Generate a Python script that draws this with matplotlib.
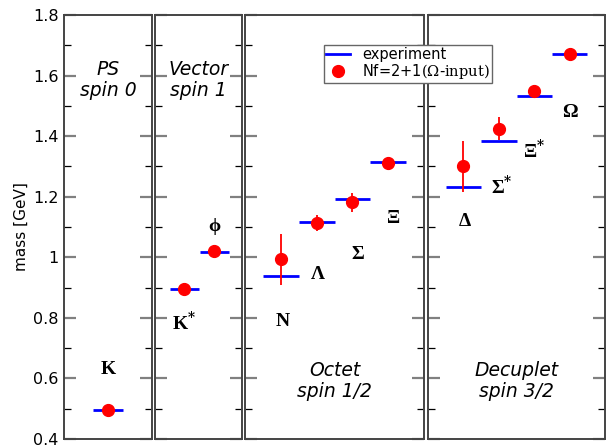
import matplotlib
matplotlib.use('Agg')
import matplotlib.pyplot as plt
from matplotlib.lines import Line2D
from matplotlib.ticker import MultipleLocator, FuncFormatter

# data (GeV)
ps_names = ['K']
ps_exp = [0.497]
ps_lat = [0.497]
ps_err = [0.0]

vec_names = [r'K$^{\mathbf{*}}$', 'ϕ']
vec_exp = [0.894, 1.019]
vec_lat = [0.896, 1.021]
vec_err = [0.0, 0.0]

oct_names = ['N', 'Λ', 'Σ', 'Ξ']
oct_exp = [0.939, 1.116, 1.192, 1.316]
oct_lat = [0.994, 1.114, 1.181, 1.310]
oct_err = [0.084, 0.026, 0.031, 0.006]

dec_names = ['Δ', r'Σ$^{\mathbf{*}}$', r'Ξ$^{\mathbf{*}}$', 'Ω']
dec_exp = [1.232, 1.384, 1.532, 1.672]
dec_lat = [1.300, 1.425, 1.548, 1.672]
dec_err = [0.085, 0.037, 0.012, 0.0]

# where the particle names sit
ps_label_y = [0.628]
vec_label_y = [0.787, 1.100]
oct_label_y = [0.788, 0.942, 1.008, 1.129]
dec_label_y = [1.118, 1.236, 1.354, 1.477]

panel_titles = ['PS\nspin 0', 'Vector\nspin 1', 'Octet\nspin 1/2', 'Decuplet\nspin 3/2']

plt.rcParams['font.family'] = ['DejaVu Sans']
plt.rcParams['mathtext.fontset'] = 'custom'
plt.rcParams['mathtext.rm'] = 'DejaVu Serif'
plt.rcParams['mathtext.bf'] = 'DejaVu Serif:bold'

W, H = 606, 446
fig = plt.figure(figsize=(W / 100, H / 100), dpi=100)

# panel pixel edges (left, right)
edges = [(64, 152), (155, 242), (245, 424), (428, 605)]
top, bottom = 15, 439

panels = [
    (ps_names, ps_exp, ps_lat, ps_err, ps_label_y, [1.5], (0, 3), (1.5, 1.585)),
    (vec_names, vec_exp, vec_lat, vec_err, vec_label_y, [1, 2.05], (0, 3), (1.5, 1.585)),
    (oct_names, oct_exp, oct_lat, oct_err, oct_label_y, [1, 2, 3, 4], (0, 5), (2.5, 0.592)),
    (dec_names, dec_exp, dec_lat, dec_err, dec_label_y, [1, 2, 3, 4], (0, 5), (2.5, 0.592)),
]
label_dx = [[0.0], [0.0, 0.0], [0.05, 0.05, 0.15, 0.15], [0.05, 0.1, 0.0, 0.0]]

axes = []
for i, (names, exp, lat, err, ly, xs, xl, tpos) in enumerate(panels):
    l, r = edges[i]
    ax = fig.add_axes([l / W, 1 - bottom / H, (r - l) / W, (bottom - top) / H])
    ax.set_xlim(*xl)
    ax.set_ylim(0.4, 1.8)
    ax.set_xticks([])
    ax.yaxis.set_major_locator(MultipleLocator(0.2))
    ax.yaxis.set_minor_locator(MultipleLocator(0.1))
    ax.yaxis.set_major_formatter(FuncFormatter(lambda v, p: '%g' % round(v, 2)))
    ax.tick_params(axis='y', which='major', direction='in', left=True, right=True,
                   length=8.5, width=1.6, color='#808080', labelsize=11.5, pad=4)
    ax.tick_params(axis='y', which='minor', direction='in', left=True, right=True,
                   length=5, width=0.9, color='black')
    if i > 0:
        ax.tick_params(axis='y', labelleft=False)
    for s in ax.spines.values():
        s.set_color('#444444')
        s.set_linewidth(1.4)

    ax.hlines(exp, [x - 0.5 for x in xs], [x + 0.5 for x in xs], color='blue', lw=2.0, zorder=2)
    ax.errorbar(xs, lat, yerr=err, fmt='o', color='red', ms=8.5, elinewidth=1.3,
                capsize=0, zorder=3)
    for j, name in enumerate(names):
        ax.text(xs[j] + label_dx[i][j], ly[j], name, ha='center', va='center',
                fontsize=14, fontweight='bold', family=['Liberation Serif', 'DejaVu Serif'])
    ax.text(tpos[0], tpos[1], panel_titles[i], ha='center', va='center',
            fontsize=13.5, style='italic', linespacing=1.15)
    axes.append(ax)

axes[0].set_ylabel('mass [GeV]', fontsize=11)
axes[0].yaxis.set_label_coords(-0.40, 0.5)

handles = [Line2D([], [], color='blue', lw=2.0),
           Line2D([], [], color='red', marker='o', ls='none', ms=8.5)]
fig.legend(handles, ['experiment', r'Nf=2+1$\mathrm{(\Omega}$-$\mathrm{input)}$'], loc='upper left',
           bbox_to_anchor=(324 / W, 1 - 45 / H), borderaxespad=0, fancybox=False,
           edgecolor='#666666', framealpha=1, fontsize=10.5, handlelength=1.65,
           labelspacing=0.0, borderpad=0.15, handletextpad=0.8)

fig.savefig('out.png', dpi=100)
